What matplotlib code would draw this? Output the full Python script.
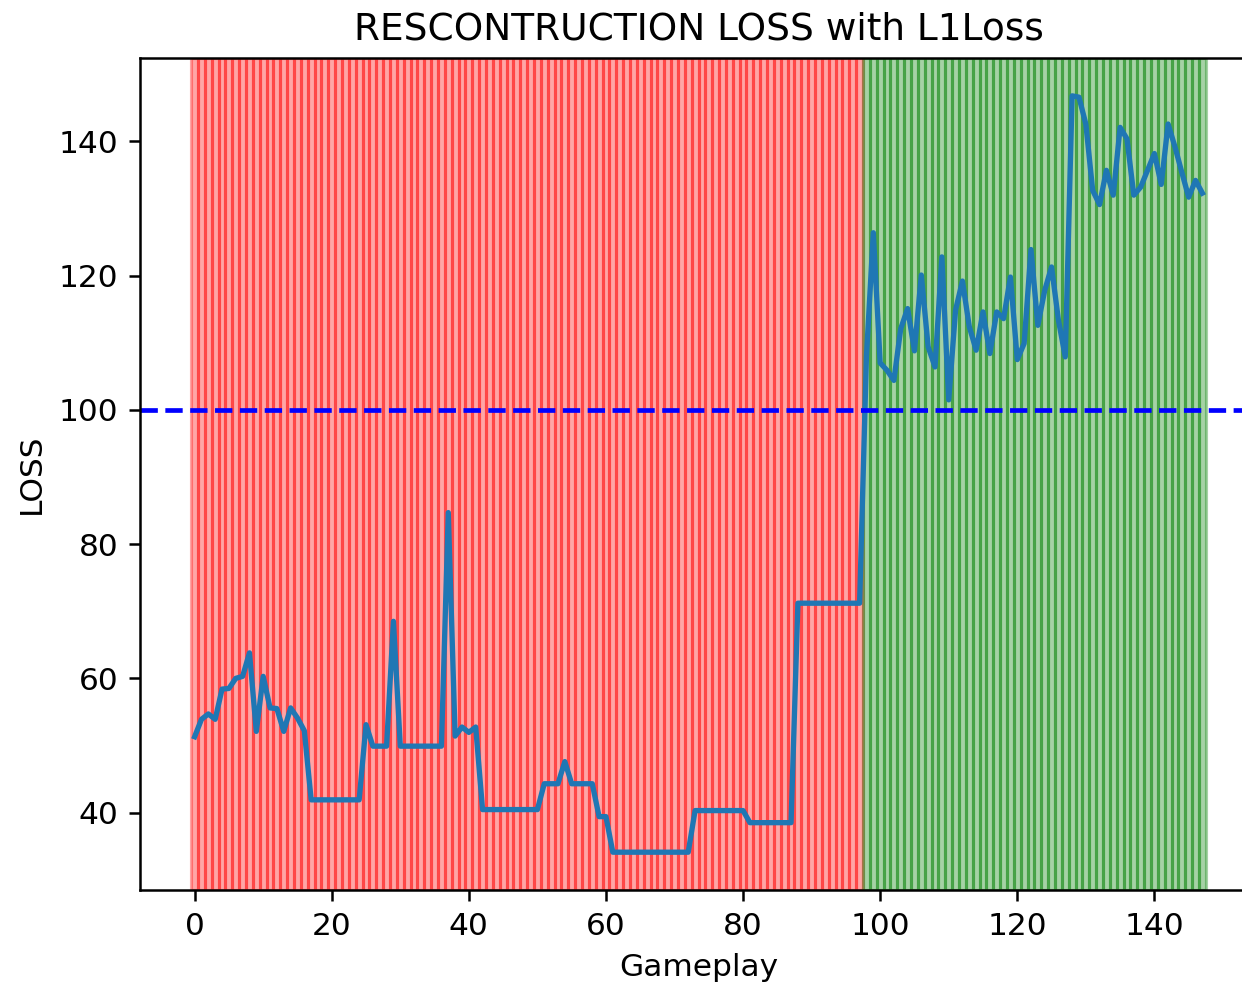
"""
Reconstruction loss per gameplay with a threshold line and red/green
per-gameplay shading (red = below threshold, green = above).
Writes out.png
"""
import matplotlib
matplotlib.use("Agg")
import matplotlib.pyplot as plt

THRESHOLD = 100

# loss per gameplay index (0..147)
loss = [
    51.3, 53.9, 54.7, 53.9, 58.4, 58.5, 60.0, 60.3, 63.8, 52.1,
    60.3, 55.6, 55.5, 52.1, 55.6, 54.1, 52.2, 41.9, 41.9, 41.9,
    41.9, 41.9, 41.9, 41.9, 41.9, 53.1, 49.9, 49.9, 49.9, 68.5,
    49.9, 49.9, 49.9, 49.9, 49.9, 49.9, 49.9, 84.7, 51.4, 52.75,
    51.95, 52.75, 40.45, 40.45, 40.45, 40.45, 40.45, 40.45, 40.45, 40.45,
    40.45, 44.3, 44.3, 44.3, 47.6, 44.3, 44.3, 44.3, 44.3, 39.4,
    39.4, 34.1, 34.1, 34.1, 34.1, 34.1, 34.1, 34.1, 34.1, 34.1,
    34.1, 34.1, 34.1, 40.3, 40.3, 40.3, 40.3, 40.3, 40.3, 40.3,
    40.3, 38.5, 38.5, 38.5, 38.5, 38.5, 38.5, 38.5, 71.2, 71.2,
    71.2, 71.2, 71.2, 71.2, 71.2, 71.2, 71.2, 71.2, 108.0, 126.4,
    107.0, 105.9, 104.4, 112.1, 115.1, 108.8, 120.1, 109.4, 106.4, 122.8,
    101.5, 114.9, 119.2, 112.4, 108.9, 114.6, 108.4, 114.6, 113.6, 119.8,
    107.5, 109.9, 123.9, 112.6, 117.8, 121.3, 113.4, 107.9, 146.8, 146.6,
    142.6, 132.7, 130.6, 135.7, 132.0, 142.1, 140.4, 132.0, 133.2, 135.7,
    138.2, 133.6, 142.6, 139.2, 135.4, 131.7, 134.2, 132.3,
]
gameplay = list(range(len(loss)))

fig = plt.figure(figsize=(1242 / 225, 990 / 225), dpi=225)
# the reference is cropped on the right, so the axes run past the figure edge
ax = fig.add_axes([0.1131, 0.1010, 0.8986, 0.8404])

for i, v in zip(gameplay, loss):
    ax.axvspan(i - 0.5, i + 0.5, color="green" if v > THRESHOLD else "red", alpha=0.35)
ax.plot(gameplay, loss, linewidth=1.7)
ax.axhline(THRESHOLD, color="blue", linestyle="--")

ax.set_title("RESCONTRUCTION LOSS with L1Loss")
ax.set_xlabel("Gameplay")
ax.set_ylabel("LOSS")

fig.savefig("out.png", dpi=225)
